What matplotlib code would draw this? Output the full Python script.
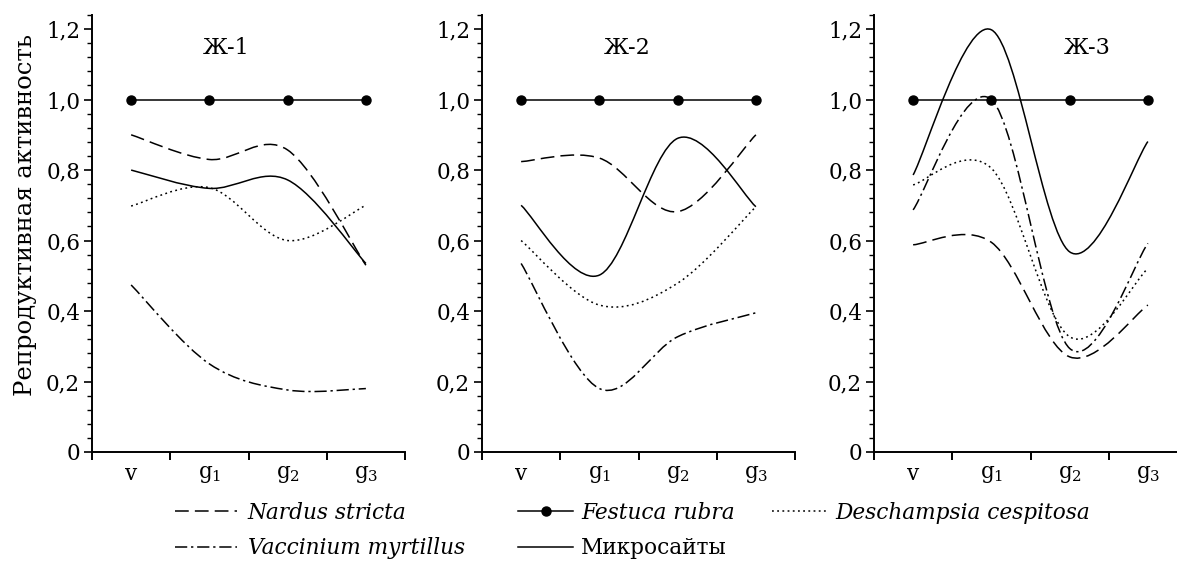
import numpy as np
import matplotlib
matplotlib.use('Agg')
import matplotlib.pyplot as plt
from matplotlib.path import Path
from matplotlib.patches import PathPatch
from matplotlib.lines import Line2D
from matplotlib.ticker import MultipleLocator, FixedLocator

plt.rcParams['font.family'] = ['DejaVu Serif']
plt.rcParams['mathtext.fontset'] = 'dejavuserif'

# данные: стадии и значения репродуктивной активности по трём участкам
stages = ['v', 'g$_1$', 'g$_2$', 'g$_3$']
panels = ['Ж-1', 'Ж-2', 'Ж-3']

festuca = [[1.0, 1.0, 1.0, 1.0],
           [1.0, 1.0, 1.0, 1.0],
           [1.0, 1.0, 1.0, 1.0]]
nardus = [[0.90, 0.83, 0.857, 0.53],
          [0.824, 0.834, 0.682, 0.90],
          [0.588, 0.595, 0.27, 0.417]]
deschampsia = [[0.698, 0.75, 0.60, 0.70],
               [0.60, 0.417, 0.479, 0.696],
               [0.758, 0.805, 0.327, 0.521]]
vaccinium = [[0.474, 0.25, 0.176, 0.18],
             [0.535, 0.18, 0.327, 0.395],
             [0.687, 1.0, 0.294, 0.592]]
microsites = [[0.80, 0.748, 0.772, 0.535],
              [0.70, 0.502, 0.89, 0.696],
              [0.786, 1.198, 0.568, 0.881]]

title_pos = [(1.22, 1.147), (1.35, 1.147), (2.22, 1.147)]

styles = {
    'nardus': (0, (9, 4)),
    'deschampsia': (0, (1.2, 2.2)),
    'vaccinium': (0, (8, 2.5, 1.5, 2.5)),
    'micro': '-',
}


def smooth_path(y):
    # сглаживание как в Excel: кривые Безье через точки (Catmull-Rom)
    pts = np.column_stack([np.arange(len(y)), y]).astype(float)
    n = len(pts)
    verts = [pts[0]]
    codes = [Path.MOVETO]
    for i in range(n - 1):
        p0 = pts[max(i - 1, 0)]
        p1 = pts[i]
        p2 = pts[i + 1]
        p3 = pts[min(i + 2, n - 1)]
        verts += [p1 + (p2 - p0) / 6, p2 - (p3 - p1) / 6, p2]
        codes += [Path.CURVE4] * 3
    return Path(verts, codes)


fig = plt.figure(figsize=(11.77, 5.61), dpi=100)
lefts = [92, 482, 874]
W, H = 1177, 561
lw = 1.1

for k in range(3):
    ax = fig.add_axes([lefts[k] / W, 1 - 452 / H, 313 / W, (452 - 15) / H])
    for data, key in [(nardus, 'nardus'), (deschampsia, 'deschampsia'),
                      (vaccinium, 'vaccinium'), (microsites, 'micro')]:
        patch = PathPatch(smooth_path(data[k]), fill=False, lw=lw, edgecolor='black',
                          linestyle=styles[key], capstyle='butt')
        ax.add_patch(patch)
    ax.plot(range(4), festuca[k], '-o', color='black', lw=lw, ms=6.5)
    ax.set_xlim(-0.5, 3.5)
    ax.set_ylim(0, 1.24)
    ax.spines['top'].set_visible(False)
    ax.spines['right'].set_visible(False)
    for s in ['left', 'bottom']:
        ax.spines[s].set_linewidth(1.4)
    ax.xaxis.set_major_locator(FixedLocator([-0.5, 0.5, 1.5, 2.5, 3.5]))
    ax.xaxis.set_minor_locator(FixedLocator([0, 1, 2, 3]))
    ax.set_xticklabels([])
    ax.set_xticklabels(stages, minor=True)
    ax.tick_params(axis='x', which='major', direction='out', length=6, width=1.4)
    ax.tick_params(axis='x', which='minor', length=0, pad=8, labelsize=15.5)
    ax.yaxis.set_major_locator(MultipleLocator(0.2))
    ax.yaxis.set_minor_locator(MultipleLocator(0.04))
    ax.set_yticks([0, 0.2, 0.4, 0.6, 0.8, 1.0, 1.2])
    ax.set_yticklabels(['0', '0,2', '0,4', '0,6', '0,8', '1,0', '1,2'])
    ax.tick_params(axis='y', which='major', direction='out', length=5.5, width=1.2,
                   labelsize=15.5, pad=3)
    ax.tick_params(axis='y', which='minor', direction='out', length=3.5, width=1.0)
    ax.patch.set_visible(False)
    ax.text(title_pos[k][0], title_pos[k][1], panels[k], ha='center', va='center', fontsize=16)
    if k == 0:
        ax.set_ylabel('Репродуктивная активность', fontsize=17.5)
        ax.yaxis.set_label_coords(-0.175, 0.542)

# легенда: три колонки, каждая своей легендой
h_nardus = Line2D([], [], color='black', lw=lw, linestyle=styles['nardus'])
h_vacc = Line2D([], [], color='black', lw=lw, linestyle=styles['vaccinium'])
h_fest = Line2D([], [], color='black', lw=lw, marker='o', ms=6.5)
h_micro = Line2D([], [], color='black', lw=lw, linestyle='-')
h_desch = Line2D([], [], color='black', lw=lw, linestyle=styles['deschampsia'])

columns = [
    ([h_nardus, h_vacc], ['Nardus stricta', 'Vaccinium myrtillus'], 175, 2.85, 0.5),
    ([h_fest, h_micro], ['Festuca rubra', 'Микросайты'], 518, 2.55, 0.35),
    ([h_desch], ['Deschampsia cespitosa'], 772, 2.6, 0.3),
]
for hs, ls, x0, hl, tp in columns:
    leg = fig.legend(hs, ls, loc='upper left', bbox_to_anchor=(x0 / W, 1 - 502 / H),
                     frameon=False, borderpad=0, borderaxespad=0, handlelength=hl,
                     handletextpad=tp, labelspacing=0.62, fontsize=15.6)
    for t in leg.get_texts():
        if t.get_text() != 'Микросайты':
            t.set_fontstyle('italic')

fig.savefig('out.png', dpi=100)
